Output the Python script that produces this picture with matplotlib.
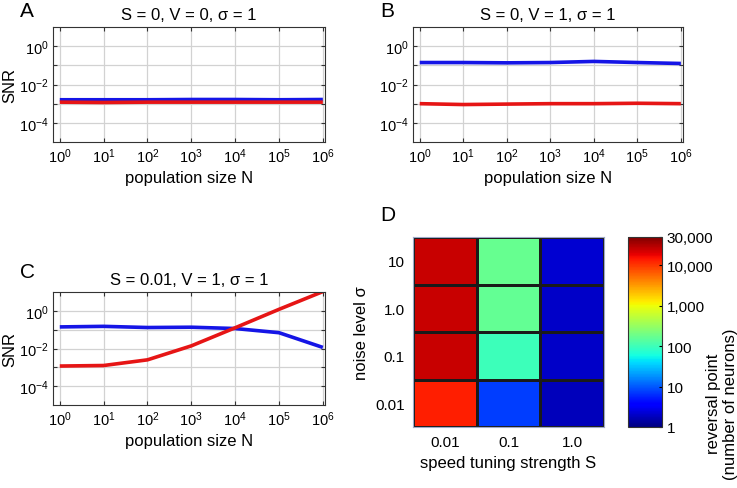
import numpy as np
from matplotlib import pyplot as plt
from matplotlib.colors import LogNorm

plt.rcParams['font.family'] = ['Liberation Sans', 'DejaVu Sans']
plt.rcParams['mathtext.fontset'] = 'custom'
plt.rcParams['mathtext.rm'] = 'Liberation Sans'
plt.rcParams['mathtext.default'] = 'regular'

# population sizes (one point per decade)
N = [1, 10, 100, 1000, 1e4, 1e5, 1e6]

# panel A: S = 0, V = 0
snr_a_blue = [1.6e-3, 1.6e-3, 1.6e-3, 1.65e-3, 1.65e-3, 1.6e-3, 1.65e-3]
snr_a_red = [1.2e-3, 1.15e-3, 1.2e-3, 1.2e-3, 1.2e-3, 1.2e-3, 1.2e-3]
# panel B: S = 0, V = 1
snr_b_blue = [0.14, 0.14, 0.135, 0.14, 0.16, 0.14, 0.125]
snr_b_red = [1.0e-3, 0.9e-3, 0.95e-3, 1.0e-3, 1.0e-3, 1.05e-3, 1.0e-3]
# panel C: S = 0.01, V = 1
snr_c_blue = [0.14, 0.15, 0.13, 0.135, 0.115, 0.069, 0.0114]
snr_c_red = [1.17e-3, 1.25e-3, 2.5e-3, 0.0138, 0.126, 1.2, 10.5]

titles = ['S = 0, V = 0, σ = 1', 'S = 0, V = 1, σ = 1', 'S = 0.01, V = 1, σ = 1']

# panel D: reversal point, rows = noise level (bottom to top), cols = S
speed_labels = ['0.01', '0.1', '1.0']
noise_labels = ['0.01', '0.1', '1.0', '10']
reversal = np.array([
    [13000, 7.5, 1.8],
    [25000, 100, 2.0],
    [25000, 160, 2.0],
    [25000, 170, 2.2],
])
cbar_ticks = [1, 10, 100, 1000, 10000, 50000]
cbar_labels = ['1', '10', '100', '1,000', '10,000', '30,000']

W, H = 737, 489
fig = plt.figure(figsize=(W / 100, H / 100), dpi=100)


def px(l, t, r, b):
    return [l / W, 1 - b / H, (r - l) / W, (b - t) / H]


def snr_panel(rect, blue, red, title):
    ax = fig.add_axes(rect)
    ax.set_xscale('log')
    ax.set_yscale('log')
    ax.plot(N, blue, color='#1515e6', lw=2.6, solid_capstyle='butt')
    ax.plot(N, red, color='#e61515', lw=2.6, solid_capstyle='butt')
    ax.set_xlim(0.7, 1.12e6)
    ax.set_ylim(1e-5, 10)
    ax.set_xticks(N)
    ax.set_xticklabels(['$10^{%d}$' % i for i in range(7)])
    yt = [10.0 ** k for k in range(-4, 1)]
    ax.set_yticks(yt)
    ax.set_yticklabels(['$10^{%d}$' % k if k % 2 == 0 else '' for k in range(-4, 1)])
    ax.yaxis.set_minor_locator(plt.NullLocator())
    ax.grid(True, which='major', color='#d2d2d2', lw=0.9)
    ax.tick_params(which='both', direction='in', top=True, right=True,
                   labelsize=10.5, color='#333333')
    ax.tick_params(which='major', length=3)
    ax.tick_params(which='minor', length=2)
    ax.tick_params(axis='y', pad=3)
    for s in ax.spines.values():
        s.set_color('#333333')
    ax.set_xlabel('population size N', fontsize=12, labelpad=3)
    ax.set_title(title, fontsize=12, pad=6)
    return ax


axA = snr_panel(px(53, 28, 325, 143), snr_a_blue, snr_a_red, titles[0])
axA.set_ylabel('SNR', fontsize=12)
axA.yaxis.set_label_coords(-36 / 272, 0.5)
axB = snr_panel(px(413, 28, 683, 143), snr_b_blue, snr_b_red, titles[1])
axC = snr_panel(px(53, 293, 325, 406), snr_c_blue, snr_c_red, titles[2])
axC.set_ylabel('SNR', fontsize=12)
axC.yaxis.set_label_coords(-36 / 272, 0.5)

fig.text(20 / W, 1 - 2 / H, 'A', fontsize=15, va='top', ha='left')
fig.text(380 / W, 1 - 2 / H, 'B', fontsize=15, va='top', ha='left')
fig.text(20 / W, 1 - 263 / H, 'C', fontsize=15, va='top', ha='left')
fig.text(380 / W, 1 - 206 / H, 'D', fontsize=15, va='top', ha='left')

# panel D heatmap
axD = fig.add_axes(px(413, 238, 604, 428))
norm = LogNorm(vmin=1, vmax=50000)
mesh = axD.pcolormesh(reversal, cmap='jet', norm=norm,
                      edgecolor='#1a1a1a', lw=0.8)
axD.set_xticks(np.arange(len(speed_labels)) + 0.5)
axD.set_xticklabels(speed_labels)
axD.set_yticks(np.arange(len(noise_labels)) + 0.5)
axD.set_yticklabels(noise_labels)
axD.tick_params(length=0, labelsize=11, pad=6)
for s in axD.spines.values():
    s.set_color('#9fa8c8')
    s.set_linewidth(0.8)
axD.set_xlabel('speed tuning strength S', fontsize=12)
axD.set_ylabel('noise level σ', fontsize=12)

cax = fig.add_axes(px(628, 238, 662, 428))
cb = fig.colorbar(mesh, cax=cax)
cb.set_ticks(cbar_ticks)
cb.set_ticklabels(cbar_labels)
cb.minorticks_off()
cb.outline.set_edgecolor('#333333')
cax.tick_params(labelsize=11, length=2, direction='in')
fig.text(722 / W, 1 - 404 / H, 'reversal point\n(number of neurons)', fontsize=12,
         rotation=90, ha='center', va='center', multialignment='center')

fig.savefig('out.png', dpi=100)
